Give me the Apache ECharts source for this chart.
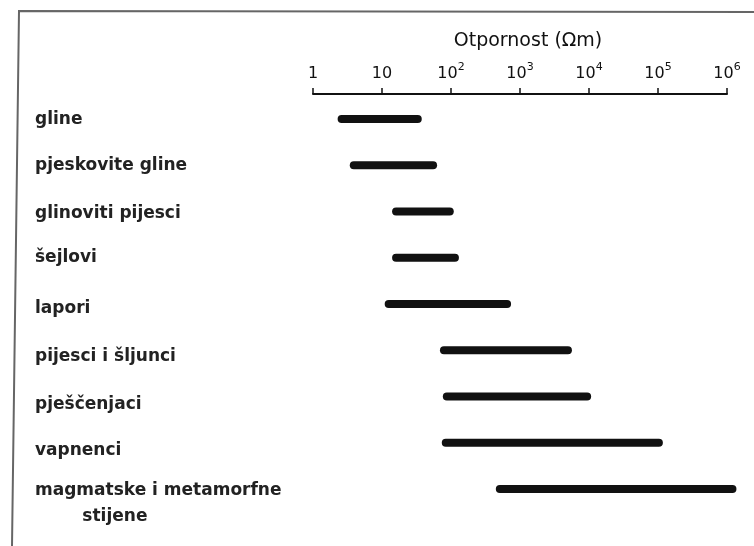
<!DOCTYPE html>
<html>
<head>
<meta charset="utf-8">
<title>Otpornost stijena</title>
<script src="https://cdn.jsdelivr.net/npm/echarts@6/dist/echarts.min.js"></script>
<style>
  html, body { margin: 0; padding: 0; background: #fff; }
  #chart { width: 754px; height: 546px; }
</style>
</head>
<body>
<div id="chart"></div>
<script>
// vrste stijena i raspon otpornosti (Ωm)
const rocks = [
  'gline',
  'pjeskovite gline',
  'glinoviti pijesci',
  'šejlovi',
  'lapori',
  'pijesci i šljunci',
  'pješčenjaci',
  'vapnenci',
  'magmatske i metamorfne\n        stijene'
];
const lowValues = [2.6, 3.9, 16, 16, 12.5, 79, 87, 84, 510];
const highValues = [33, 55, 96, 114, 650, 4950, 9400, 103000, 1200000];
const tickExponents = [0, 1, 2, 3, 4, 5, 6];

// pomak natpisa prema dolje (px), kao na skeniranoj slici
const labelShift = [0, 0, 2, 0, 5, 6, 8, 8, 15];

const FONT = 'DejaVu Sans';

const chart = echarts.init(document.getElementById('chart'));

const seriesData = rocks.map((name, i) => [i, lowValues[i], highValues[i]]);

// stilovi natpisa kategorija (pomak preko padding-a)
const labelRich = {};
labelShift.forEach((s) => {
  labelRich['s' + s] = {
    fontFamily: FONT,
    fontWeight: 'bold',
    fontSize: 17,
    lineHeight: 26,
    color: '#222',
    padding: [s * 2, 0, 0, 0]
  };
});

const categoryLabel = (value, index) => {
  const style = 's' + labelShift[index];
  return value.split('\n').map(l => '{' + style + '|' + l + '}').join('\n');
};

// oznaka osi: 1, 10, 10^2 ...
const tickLabel = (value) => {
  const exp = Math.round(Math.log10(value));
  if (!tickExponents.includes(exp)) return '';
  if (exp === 0) return '{b|1}';
  if (exp === 1) return '{b|10}';
  return '{b|10}{sup|' + exp + '}';
};

const option = {
  backgroundColor: '#fff',
  animation: false,
  grid: {
    left: 313,
    right: 27,
    top: 96,
    bottom: 34,
    outerBoundsMode: 'none'
  },
  xAxis: {
    type: 'log',
    logBase: 10,
    min: 1,
    max: 1000000,
    position: 'top',
    offset: 2,
    name: 'Otpornost (Ωm)',
    nameLocation: 'middle',
    nameGap: 43,
    nameTextStyle: {
      fontFamily: FONT,
      fontSize: 19,
      color: '#111',
      padding: [0, 0, 0, 16]
    },
    axisLine: {
      show: true,
      lineStyle: { color: '#111', width: 2 }
    },
    axisTick: {
      show: true,
      length: 6,
      lineStyle: { color: '#111', width: 1.5 }
    },
    minorTick: { show: false },
    splitLine: { show: false },
    axisLabel: {
      margin: 8,
      formatter: tickLabel,
      rich: {
        b: {
          fontFamily: FONT,
          fontSize: 16,
          lineHeight: 24,
          color: '#111'
        },
        sup: {
          fontFamily: FONT,
          fontSize: 11,
          lineHeight: 11,
          verticalAlign: 'top',
          color: '#111'
        }
      }
    }
  },
  yAxis: {
    type: 'category',
    data: rocks,
    inverse: true,
    axisLine: { show: false },
    axisTick: { show: false },
    splitLine: { show: false },
    axisLabel: {
      align: 'left',
      margin: 278,
      interval: 0,
      hideOverlap: false,
      fontFamily: FONT,
      fontWeight: 'bold',
      fontSize: 17,
      lineHeight: 26,
      color: '#222',
      formatter: categoryLabel,
      rich: labelRich
    }
  },
  series: [
    {
      type: 'custom',
      clip: false,
      encode: { y: 0, x: [1, 2] },
      data: seriesData,
      renderItem: (params, api) => {
        const start = api.coord([api.value(1), api.value(0)]);
        const end = api.coord([api.value(2), api.value(0)]);
        return {
          type: 'line',
          shape: { x1: start[0], y1: start[1], x2: end[0], y2: end[1] },
          style: {
            stroke: '#111',
            lineWidth: 8,
            lineCap: 'round'
          }
        };
      }
    }
  ],
  graphic: [
    {
      type: 'polyline',
      shape: { points: [[12, 546], [19, 11], [754, 12]] },
      style: { stroke: '#666', lineWidth: 2, fill: null }
    }
  ]
};

chart.setOption(option);
</script>
</body>
</html>
